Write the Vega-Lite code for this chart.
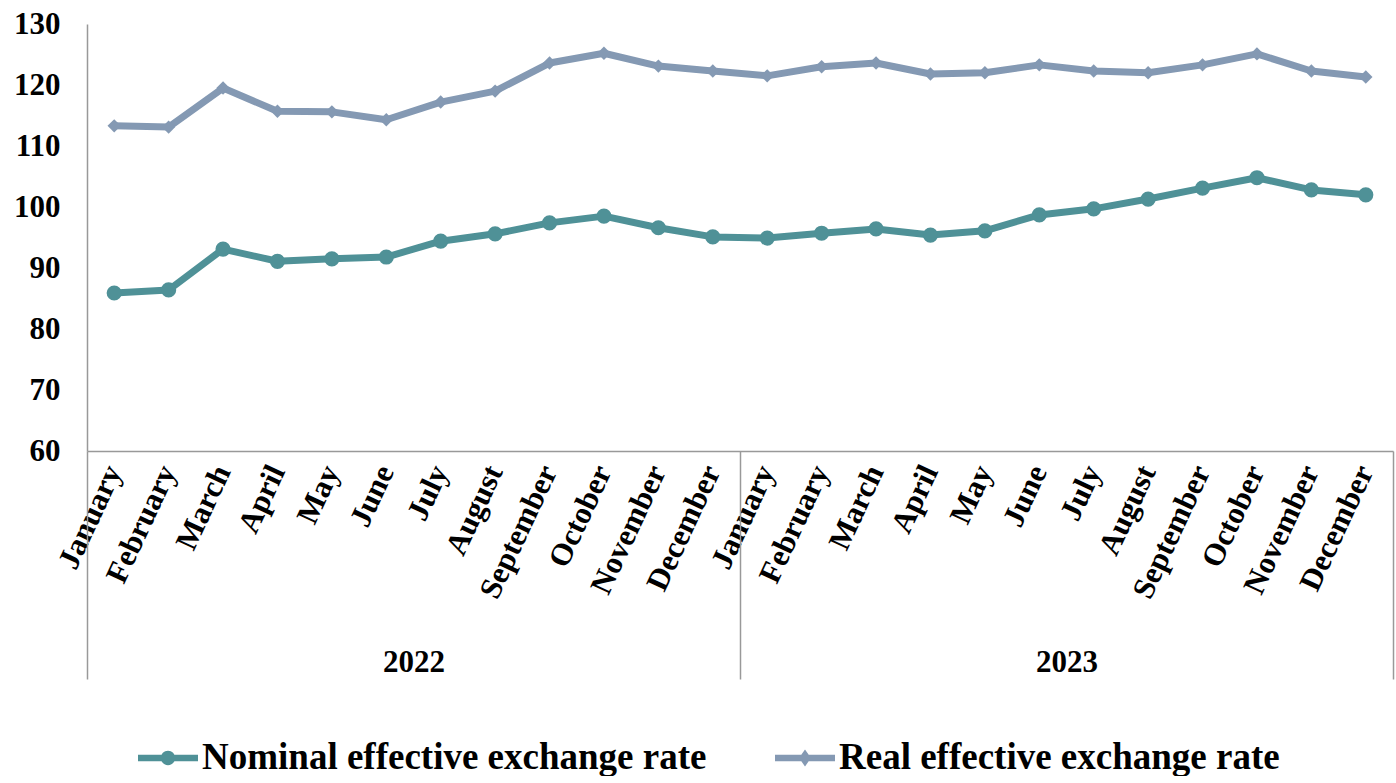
{
  "$schema": "https://vega.github.io/schema/vega-lite/v6.json",
  "width": 1306,
  "height": 427,
  "padding": {"left": 13, "top": 8, "right": 3, "bottom": 0},
  "background": "white",
  "config": {
    "view": {"stroke": null},
    "font": "Liberation Serif"
  },
  "data": {"values": [
    {"key": "January 2022", "year": "2022", "series": "Nominal effective exchange rate", "value": 85.9},
    {"key": "February 2022", "year": "2022", "series": "Nominal effective exchange rate", "value": 86.4},
    {"key": "March 2022", "year": "2022", "series": "Nominal effective exchange rate", "value": 93.1},
    {"key": "April 2022", "year": "2022", "series": "Nominal effective exchange rate", "value": 91.1},
    {"key": "May 2022", "year": "2022", "series": "Nominal effective exchange rate", "value": 91.5},
    {"key": "June 2022", "year": "2022", "series": "Nominal effective exchange rate", "value": 91.8},
    {"key": "July 2022", "year": "2022", "series": "Nominal effective exchange rate", "value": 94.4},
    {"key": "August 2022", "year": "2022", "series": "Nominal effective exchange rate", "value": 95.6},
    {"key": "September 2022", "year": "2022", "series": "Nominal effective exchange rate", "value": 97.4},
    {"key": "October 2022", "year": "2022", "series": "Nominal effective exchange rate", "value": 98.5},
    {"key": "November 2022", "year": "2022", "series": "Nominal effective exchange rate", "value": 96.6},
    {"key": "December 2022", "year": "2022", "series": "Nominal effective exchange rate", "value": 95.1},
    {"key": "January 2023", "year": "2023", "series": "Nominal effective exchange rate", "value": 94.9},
    {"key": "February 2023", "year": "2023", "series": "Nominal effective exchange rate", "value": 95.7},
    {"key": "March 2023", "year": "2023", "series": "Nominal effective exchange rate", "value": 96.4},
    {"key": "April 2023", "year": "2023", "series": "Nominal effective exchange rate", "value": 95.4},
    {"key": "May 2023", "year": "2023", "series": "Nominal effective exchange rate", "value": 96.1},
    {"key": "June 2023", "year": "2023", "series": "Nominal effective exchange rate", "value": 98.7},
    {"key": "July 2023", "year": "2023", "series": "Nominal effective exchange rate", "value": 99.7},
    {"key": "August 2023", "year": "2023", "series": "Nominal effective exchange rate", "value": 101.3},
    {"key": "September 2023", "year": "2023", "series": "Nominal effective exchange rate", "value": 103.1},
    {"key": "October 2023", "year": "2023", "series": "Nominal effective exchange rate", "value": 104.8},
    {"key": "November 2023", "year": "2023", "series": "Nominal effective exchange rate", "value": 102.8},
    {"key": "December 2023", "year": "2023", "series": "Nominal effective exchange rate", "value": 102.0},
    {"key": "January 2022", "year": "2022", "series": "Real effective exchange rate", "value": 113.3},
    {"key": "February 2022", "year": "2022", "series": "Real effective exchange rate", "value": 113.1},
    {"key": "March 2022", "year": "2022", "series": "Real effective exchange rate", "value": 119.5},
    {"key": "April 2022", "year": "2022", "series": "Real effective exchange rate", "value": 115.7},
    {"key": "May 2022", "year": "2022", "series": "Real effective exchange rate", "value": 115.6},
    {"key": "June 2022", "year": "2022", "series": "Real effective exchange rate", "value": 114.3},
    {"key": "July 2022", "year": "2022", "series": "Real effective exchange rate", "value": 117.2},
    {"key": "August 2022", "year": "2022", "series": "Real effective exchange rate", "value": 119.0},
    {"key": "September 2022", "year": "2022", "series": "Real effective exchange rate", "value": 123.6},
    {"key": "October 2022", "year": "2022", "series": "Real effective exchange rate", "value": 125.2},
    {"key": "November 2022", "year": "2022", "series": "Real effective exchange rate", "value": 123.1},
    {"key": "December 2022", "year": "2022", "series": "Real effective exchange rate", "value": 122.3},
    {"key": "January 2023", "year": "2023", "series": "Real effective exchange rate", "value": 121.5},
    {"key": "February 2023", "year": "2023", "series": "Real effective exchange rate", "value": 123.0},
    {"key": "March 2023", "year": "2023", "series": "Real effective exchange rate", "value": 123.6},
    {"key": "April 2023", "year": "2023", "series": "Real effective exchange rate", "value": 121.8},
    {"key": "May 2023", "year": "2023", "series": "Real effective exchange rate", "value": 122.0},
    {"key": "June 2023", "year": "2023", "series": "Real effective exchange rate", "value": 123.3},
    {"key": "July 2023", "year": "2023", "series": "Real effective exchange rate", "value": 122.3},
    {"key": "August 2023", "year": "2023", "series": "Real effective exchange rate", "value": 122.0},
    {"key": "September 2023", "year": "2023", "series": "Real effective exchange rate", "value": 123.3},
    {"key": "October 2023", "year": "2023", "series": "Real effective exchange rate", "value": 125.1},
    {"key": "November 2023", "year": "2023", "series": "Real effective exchange rate", "value": 122.3},
    {"key": "December 2023", "year": "2023", "series": "Real effective exchange rate", "value": 121.3}
  ]},
  "encoding": {
    "y": {
      "field": "value", "type": "quantitative",
      "scale": {"domain": [60, 130], "nice": false, "zero": false},
      "axis": {
        "title": null, "values": [60, 70, 80, 90, 100, 110, 120, 130],
        "grid": false, "ticks": false, "domainColor": "#999999", "domainWidth": 1.5,
        "labelFont": "Liberation Serif", "labelFontWeight": "bold", "labelFontSize": 31,
        "labelColor": "black", "labelPadding": 27
      }
    }
  },
  "layer": [
    {
      "encoding": {
        "x": {
          "field": "key", "type": "nominal", "sort": null,
          "scale": {"type": "band", "paddingInner": 0, "paddingOuter": 0},
          "axis": {
            "title": null, "ticks": false, "domainColor": "#999999", "domainWidth": 1.5,
            "labelExpr": "split(datum.value, ' ')[0]",
            "labelAngle": -65, "labelFont": "Liberation Serif", "labelFontWeight": "bold",
            "labelFontSize": 31, "labelColor": "black", "labelPadding": 16, "labelOverlap": false
          }
        },
        "color": {
          "field": "series", "type": "nominal",
          "scale": {"domain": ["Nominal effective exchange rate", "Real effective exchange rate"], "range": ["#4F9197", "#8499B3"]},
          "legend": {
            "title": null, "orient": "none", "direction": "horizontal",
            "legendX": 51, "legendY": 704,
            "labelFont": "Liberation Serif", "labelFontWeight": "bold", "labelFontSize": 37,
            "labelColor": "black", "labelLimit": 0, "columnPadding": 68, "labelOffset": 4,
            "symbolSize": 3600, "symbolStrokeWidth": 0,
            "symbolType": "M-1,-0.11L1,-0.11L1,0.11L-1,0.11Z",
            "encode": {
              "symbols": {
                "update": {
                  "shape": {"signal": "datum.value === 'Nominal effective exchange rate' ? 'M-1,-0.11L1,-0.11L1,0.11L-1,0.11Z M0.24,0A0.24,0.24 0 1,1 -0.24,0A0.24,0.24 0 1,1 0.24,0Z' : 'M-1,-0.11L1,-0.11L1,0.11L-1,0.11Z M0,-0.28L0.2,0L0,0.28L-0.2,0Z'"},
                  "fill": {"signal": "datum.value === 'Nominal effective exchange rate' ? '#4F9197' : '#8499B3'"},
                  "stroke": {"value": "transparent"},
                  "strokeWidth": {"value": 0}
                }
              }
            }
          }
        }
      },
      "layer": [
        {"mark": {"type": "line", "strokeWidth": 7, "strokeJoin": "round"}},
        {
          "transform": [{"filter": "datum.series === 'Nominal effective exchange rate'"}],
          "mark": {"type": "point", "filled": true, "opacity": 1, "shape": "circle", "size": 230}
        },
        {
          "transform": [{"filter": "datum.series === 'Real effective exchange rate'"}],
          "mark": {"type": "point", "filled": true, "opacity": 1, "shape": "diamond", "size": 180}
        }
      ]
    },
    {
      "mark": {"type": "point", "opacity": 0},
      "encoding": {
        "x": {
          "field": "year", "type": "nominal",
          "scale": {"type": "band", "paddingInner": 0, "paddingOuter": 0},
          "axis": {
            "title": null, "orient": "bottom", "domain": false, "tickBand": "extent",
            "tickSize": 228, "tickColor": "#999999", "tickWidth": 1.5,
            "labelAngle": 0, "labelFont": "Liberation Serif", "labelFontWeight": "bold",
            "labelFontSize": 31, "labelColor": "black", "labelPadding": -32, "labelBaseline": "top"
          }
        }
      }
    }
  ],
  "resolve": {"scale": {"x": "independent"}, "axis": {"x": "independent"}}
}
